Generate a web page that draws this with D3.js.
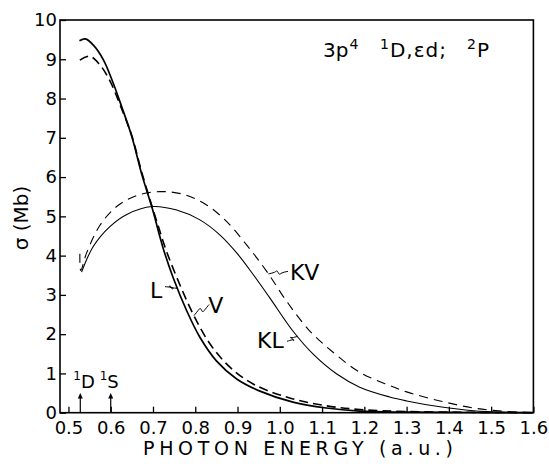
<!DOCTYPE html>
<html>
<head>
<meta charset="utf-8">
<script src="https://cdn.jsdelivr.net/npm/d3@7"></script>
<style>
  body { margin: 0; background: #fff; }
  text { font-family: "DejaVu Sans", sans-serif; fill: #000; }
</style>
</head>
<body>
<div class="chart"></div>
<script>
// photon energy (a.u.) / cross section (Mb)
const energyL = [0.526, 0.540, 0.559, 0.583, 0.606, 0.626, 0.650, 0.674, 0.698, 0.724, 0.748, 0.780, 0.811, 0.850, 0.898, 0.953, 1.031, 1.110, 1.189, 1.30, 1.45, 1.6];
const sigmaL  = [9.47, 9.52, 9.36, 8.98, 8.39, 7.79, 7.03, 6.05, 5.21, 4.19, 3.43, 2.59, 1.92, 1.32, 0.86, 0.55, 0.27, 0.12, 0.04, 0.015, 0.005, 0.0];

const energyV = [0.527, 0.550, 0.575, 0.599, 0.622, 0.650, 0.674, 0.709, 0.732, 0.760, 0.795, 0.835, 0.882, 0.937, 1.016, 1.102, 1.189, 1.30, 1.45, 1.6];
const sigmaV  = [8.98, 9.08, 8.85, 8.43, 7.84, 7.05, 6.10, 4.87, 4.11, 3.35, 2.51, 1.75, 1.16, 0.73, 0.40, 0.19, 0.08, 0.03, 0.01, 0.0];

const energyKL = [0.531, 0.559, 0.598, 0.638, 0.698, 0.756, 0.811, 0.858, 0.898, 0.937, 0.976, 1.031, 1.079, 1.134, 1.189, 1.26, 1.30, 1.379, 1.458, 1.54, 1.6];
const sigmaKL  = [3.58, 4.24, 4.74, 5.05, 5.25, 5.16, 4.91, 4.53, 4.07, 3.52, 2.93, 2.08, 1.49, 0.99, 0.65, 0.40, 0.30, 0.15, 0.05, 0.01, 0.0];

const energyKV = [0.527, 0.529, 0.543, 0.575, 0.614, 0.661, 0.717, 0.772, 0.827, 0.874, 0.921, 0.969, 1.016, 1.071, 1.126, 1.189, 1.26, 1.30, 1.379, 1.458, 1.537, 1.6];
const sigmaKV  = [4.05, 3.62, 4.07, 4.78, 5.25, 5.53, 5.63, 5.56, 5.29, 4.87, 4.28, 3.60, 2.84, 2.08, 1.54, 1.03, 0.69, 0.53, 0.30, 0.12, 0.03, 0.0];

const xTicks = [0.5, 0.6, 0.7, 0.8, 0.9, 1.0, 1.1, 1.2, 1.3, 1.4, 1.5, 1.6];
const yTicks = [0, 1, 2, 3, 4, 5, 6, 7, 8, 9, 10];
const thresholdNames = ["D", "S"];
const thresholdEnergies = [0.528, 0.6];

const svgWidth = 549;
const svgHeight = 464;

const svg = d3.select(".chart")
    .append("svg")
    .attr("width", svgWidth)
    .attr("height", svgHeight);

const x = d3.scaleLinear().domain([0.48, 1.6]).range([60, 533.4]);
const y = d3.scaleLinear().domain([0, 10]).range([412.7, 20]);

const zip = (xs, ys) => xs.map((e, i) => [e, ys[i]]);
const at = (xs, ys, e) => d3.scaleLinear().domain(xs).range(ys)(e);

// frame
svg.append("rect")
    .attr("x", x(0.48)).attr("y", y(10))
    .attr("width", x(1.6) - x(0.48)).attr("height", y(0) - y(10))
    .attr("fill", "none").attr("stroke", "#000").attr("stroke-width", 1.6);

// axes, ticks pointing inward
const xAxis = svg.append("g")
    .attr("transform", `translate(0,${y(0)})`)
    .call(d3.axisTop(x).tickValues(xTicks).tickSize(6).tickFormat(d3.format(".1f")));
xAxis.select(".domain").remove();
xAxis.selectAll("line").attr("stroke-width", 1.3);
xAxis.selectAll("text")
    .attr("y", 21).attr("dy", 0)
    .style("font-size", "18px").style("font-family", "DejaVu Sans");

const yAxis = svg.append("g")
    .attr("transform", `translate(${x(0.48)},0)`)
    .call(d3.axisRight(y).tickValues(yTicks).tickSize(6));
yAxis.select(".domain").remove();
yAxis.selectAll("line").attr("stroke-width", 1.3);
yAxis.selectAll("text")
    .attr("x", -3).attr("text-anchor", "end")
    .style("font-size", "18px").style("font-family", "DejaVu Sans");

// axis titles
svg.append("text")
    .attr("x", 143).attr("y", 455)
    .attr("textLength", 310).attr("lengthAdjust", "spacing")
    .style("font-size", "19px")
    .text("PHOTON ENERGY (a.u.)");

svg.append("text")
    .attr("transform", "translate(28,218) rotate(-90)")
    .attr("text-anchor", "middle")
    .style("font-size", "20px")
    .text("σ (Mb)");

// curves
const line = d3.line().x(d => x(d[0])).y(d => y(d[1])).curve(d3.curveCatmullRom.alpha(0.5));
const curves = [
    { xs: energyL, ys: sigmaL, dash: null, w: 1.7 },
    { xs: energyV, ys: sigmaV, dash: "9,5", w: 1.6 },
    { xs: energyKL, ys: sigmaKL, dash: null, w: 1.1 },
    { xs: energyKV, ys: sigmaKV, dash: "9,6", w: 1.1 }
];
svg.selectAll(".curve")
    .data(curves)
    .enter()
    .append("path")
    .attr("class", "curve")
    .attr("d", d => line(zip(d.xs, d.ys)))
    .attr("fill", "none")
    .attr("stroke", "#000")
    .attr("stroke-width", d => d.w)
    .attr("stroke-dasharray", d => d.dash);

// curve labels with squiggly leaders
const labels = [
    { text: "L",  xs: energyL,  ys: sigmaL,  e: 0.758, lx: 0.693, ly: 2.93, ex: 165, ey: -11 },
    { text: "V",  xs: energyV,  ys: sigmaV,  e: 0.797, lx: 0.831, ly: 2.55, ex: 209, ey: -8 },
    { text: "KV", xs: energyKV, ys: sigmaKV, e: 0.973, lx: 1.024, ly: 3.37, ex: 288, ey: -9 },
    { text: "KL", xs: energyKL, ys: sigmaKL, e: 1.042, lx: 0.946, ly: 1.64, ex: 287, ey: -7 }
];
const wiggle = d3.line().curve(d3.curveBasis);
labels.forEach(l => {
    const cx = x(l.e), cy = y(at(l.xs, l.ys, l.e));
    const tx = l.ex, ty = y(l.ly) + l.ey;
    const mx = (cx + tx) / 2, my = (cy + ty) / 2;
    svg.append("path")
        .attr("d", wiggle([[cx, cy], [mx - 3, my], [mx - 1, my - 3], [mx + 1, my + 3], [mx + 3, my], [tx, ty]]))
        .attr("fill", "none").attr("stroke", "#000").attr("stroke-width", 1);
    svg.append("text")
        .attr("x", x(l.lx)).attr("y", y(l.ly))
        .style("font-size", "22px")
        .text(l.text);
});

// title
const sup = (sel, t, dx) => sel.append("tspan").attr("dx", dx).attr("dy", -8).style("font-size", "14px").text(t);
const title = svg.append("text").attr("x", 323).attr("y", 57).style("font-size", "20px");
title.append("tspan").text("3p");
sup(title, "4", 1);
sup(title, "1", 0).attr("x", 380).attr("dx", null).attr("dy", 0);
title.append("tspan").attr("dx", 1).attr("dy", 8).attr("letter-spacing", 1).text("D,εd;");
sup(title, "2", 0).attr("x", 467);
title.append("tspan").attr("dx", 1).attr("dy", 8).text("P");

// threshold arrows and labels
const thresholdShift = [-7, -11];
thresholdEnergies.forEach((e, i) => {
    svg.append("line")
        .attr("x1", x(e)).attr("x2", x(e))
        .attr("y1", y(0)).attr("y2", y(0.4))
        .attr("stroke", "#000").attr("stroke-width", 1.2);
    svg.append("path")
        .attr("d", `M${x(e) - 2.5},${y(0.36)} L${x(e)},${y(0.5)} L${x(e) + 2.5},${y(0.36)} Z`)
        .attr("fill", "#000");
    const lab = svg.append("text").attr("x", x(e) + thresholdShift[i]).attr("y", 388).style("font-size", "18px");
    lab.append("tspan").attr("dy", -8).style("font-size", "12px").text("1");
    lab.append("tspan").attr("dx", 0).attr("dy", 8).text(thresholdNames[i]);
});
</script>
</body>
</html>
